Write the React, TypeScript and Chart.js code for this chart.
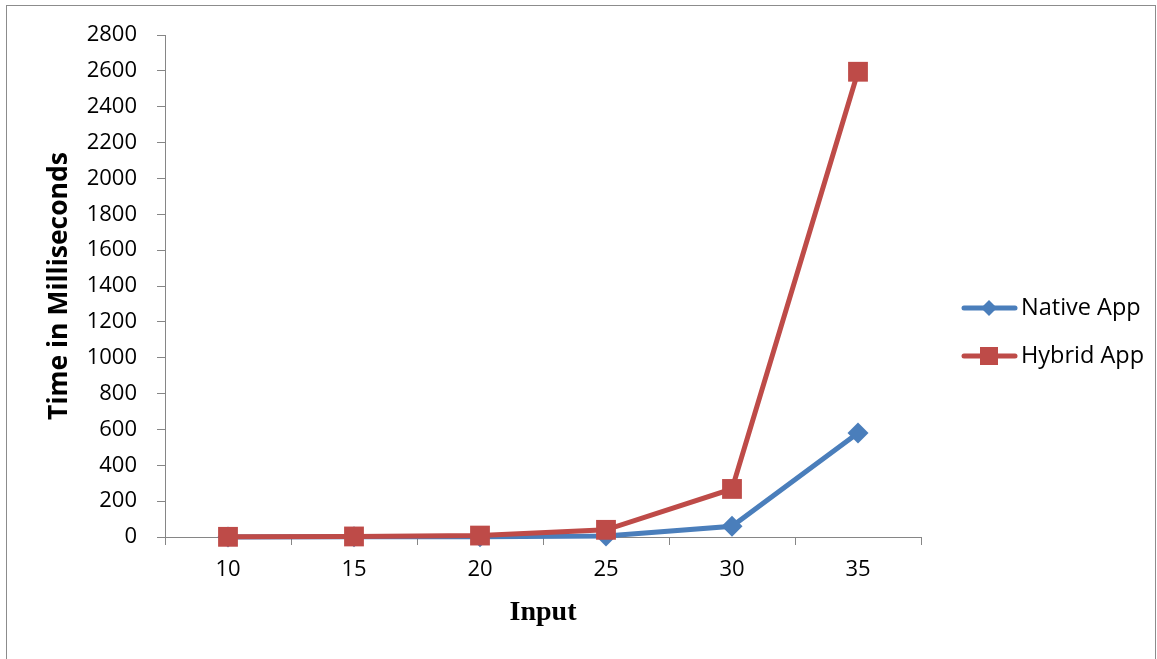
import React, { useEffect, useRef } from 'react';
import { Chart, registerables } from 'chart.js';
Chart.register(...registerables);

const categories = ['10', '15', '20', '25', '30', '35'];
const nativeApp = [0.5, 1, 2, 5, 60, 580];
const hybridApp = [1, 3, 8, 40, 268, 2595];
const seriesNames = ['Native App', 'Hybrid App'];
const yTitle = 'Time in Milliseconds';
const xTitle = 'Input';
const yMax = 2800;
const yStep = 200;

const BLUE = '#4A7EBB';
const RED = '#BE4B48';
const AXIS = '#868686';
const FONT = 'Open Sans';

const legendPlugin = {
  id: 'sideLegend',
  afterDraw(chart: any) {
    const ctx = chart.ctx;
    const items = [
      { ds: chart.data.datasets[0], y: 308, shape: 'diamond' },
      { ds: chart.data.datasets[1], y: 356, shape: 'square' },
    ];
    ctx.save();
    for (const it of items) {
      ctx.strokeStyle = it.ds.borderColor;
      ctx.lineWidth = 5;
      ctx.lineCap = 'round';
      ctx.beginPath();
      ctx.moveTo(964, it.y);
      ctx.lineTo(1015, it.y);
      ctx.stroke();
      ctx.fillStyle = it.ds.backgroundColor;
      if (it.shape === 'diamond') {
        ctx.beginPath();
        ctx.moveTo(989, it.y - 8);
        ctx.lineTo(997, it.y);
        ctx.lineTo(989, it.y + 8);
        ctx.lineTo(981, it.y);
        ctx.closePath();
        ctx.fill();
      } else {
        ctx.fillRect(980, it.y - 9, 18, 18);
      }
      ctx.fillStyle = '#000';
      ctx.font = `23.5px "${FONT}"`;
      ctx.textBaseline = 'middle';
      ctx.textAlign = 'left';
      ctx.fillText(it.ds.label, 1021, it.y);
    }
    ctx.restore();
  },
};

export default function App() {
  const ref = useRef<HTMLCanvasElement>(null);
  useEffect(() => {
    const chart = new Chart(ref.current as HTMLCanvasElement, {
      type: 'line',
      data: {
        labels: categories,
        datasets: [
          {
            label: seriesNames[0],
            data: nativeApp,
            borderColor: BLUE,
            backgroundColor: BLUE,
            borderWidth: 5,
            pointStyle: 'rectRot',
            pointRadius: 10.5,
            pointBorderWidth: 0,
            order: 1,
            clip: false as any,
          },
          {
            label: seriesNames[1],
            data: hybridApp,
            borderColor: RED,
            backgroundColor: RED,
            borderWidth: 5,
            pointStyle: 'rect',
            pointRadius: 14,
            pointBorderWidth: 0,
            order: 0,
            clip: false as any,
          },
        ],
      },
      options: {
        responsive: false,
        animation: false,
        layout: { padding: { left: 43, top: 35, right: 236, bottom: 0 } },
        plugins: { legend: { display: false }, tooltip: { enabled: false } },
        scales: {
          x: {
            type: 'category',
            offset: true,
            grid: { drawOnChartArea: false, tickLength: 8, color: AXIS, offset: true },
            border: { color: AXIS },
            ticks: { color: '#000', font: { family: FONT, size: 22 }, padding: 12, maxRotation: 0 },
            title: {
              display: true,
              text: xTitle,
              color: '#000',
              font: { family: 'Liberation Serif', size: 28, weight: 'bold' },
              padding: { top: 4, bottom: 29 },
            },
            afterFit: (s: any) => { s.height = 659 - 537; },
          },
          y: {
            min: 0,
            max: yMax,
            grid: { drawOnChartArea: false, tickLength: 8, color: AXIS },
            border: { color: AXIS },
            ticks: {
              stepSize: yStep,
              color: '#000',
              font: { family: FONT, size: 22 },
              padding: 20,
              callback: (v: any) => String(v),
            },
            title: {
              display: true,
              text: yTitle,
              color: '#000',
              font: { family: FONT, size: 26.5, weight: 'bold' },
              padding: { top: 1, bottom: 4 },
            },
            afterFit: (s: any) => { s.width = 165 - 43; },
          },
        },
      },
      plugins: [legendPlugin],
    });
    return () => chart.destroy();
  }, []);
  return (
    <div style={{ position: 'fixed', left: 0, top: 0, width: 1157, height: 659, background: '#fff', overflow: 'hidden' }}>
      <div style={{ position: 'absolute', left: 6, top: 5, width: 1148, height: 700, border: '1px solid #8c8c8c' }} />
      <canvas ref={ref} width={1157} height={659} style={{ position: 'absolute', left: 0, top: 0 }} />
    </div>
  );
}
